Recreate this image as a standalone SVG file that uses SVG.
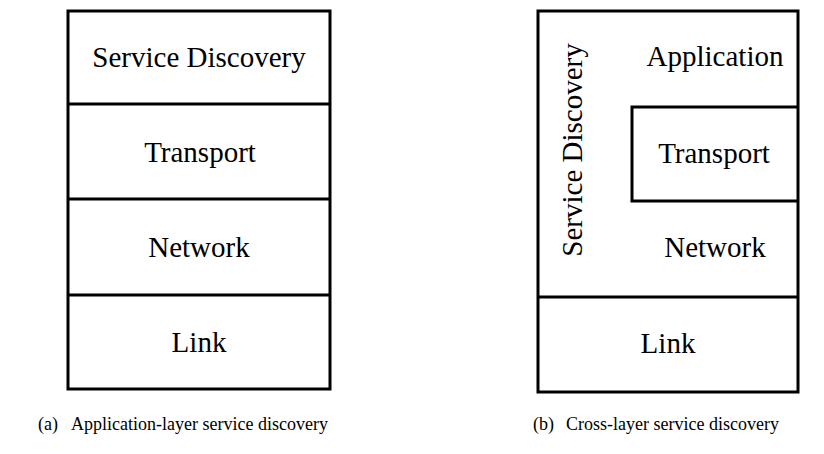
<svg xmlns="http://www.w3.org/2000/svg" width="824" height="454" viewBox="0 0 824 454">
  <style>
    .box { fill: #fff; stroke: #000; stroke-width: 3; }
    .ln { fill: none; stroke: #000; stroke-width: 3; }
    .lbl { font-family: "Liberation Serif", "Times New Roman", serif; font-size: 29px; fill: #000; text-anchor: middle; }
    .cap { font-family: "Liberation Serif", "Times New Roman", serif; font-size: 18px; fill: #000; }
  </style>
  <rect width="824" height="454" fill="#fff"/>

  <!-- (a) application-layer stack -->
  <g id="stack-a">
    <rect class="box" x="68" y="11" width="262" height="378"/>
    <g id="a-service-discovery"><text class="lbl" x="199" y="67">Service Discovery</text></g>
    <g id="a-transport"><line class="ln" x1="68" y1="104" x2="330" y2="104"/><text class="lbl" x="200" y="162">Transport</text></g>
    <g id="a-network"><line class="ln" x1="68" y1="199" x2="330" y2="199"/><text class="lbl" x="199" y="257">Network</text></g>
    <g id="a-link"><line class="ln" x1="68" y1="295" x2="330" y2="295"/><text class="lbl" x="199" y="352">Link</text></g>
  </g>

  <!-- (b) cross-layer stack -->
  <g id="stack-b">
    <rect class="box" x="538" y="11" width="260" height="381"/>
    <g id="b-service-discovery"><text class="lbl" transform="translate(582 150) rotate(-90)">Service Discovery</text></g>
    <g id="b-application"><text class="lbl" x="715" y="66">Application</text></g>
    <g id="b-transport"><path class="ln" d="M798 107 H632 V201 H798"/><text class="lbl" x="714" y="163">Transport</text></g>
    <g id="b-network"><text class="lbl" x="715" y="257">Network</text></g>
    <g id="b-link"><line class="ln" x1="538" y1="297" x2="798" y2="297"/><text class="lbl" x="668" y="353">Link</text></g>
  </g>

  <g id="captions">
    <text class="cap" x="38" y="430">(a)</text>
    <text class="cap" x="71" y="430">Application-layer service discovery</text>
    <text class="cap" x="533" y="430">(b)</text>
    <text class="cap" x="566" y="430">Cross-layer service discovery</text>
  </g>
</svg>
